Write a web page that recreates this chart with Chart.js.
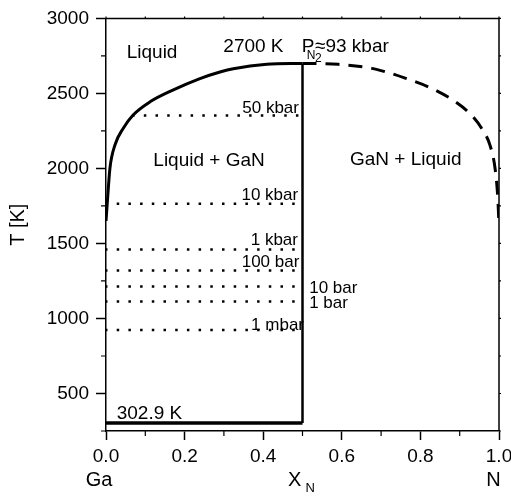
<!DOCTYPE html>
<html>
<head>
<meta charset="utf-8">
<script src="https://cdn.jsdelivr.net/npm/chart.js@4"></script>
<style>
  html, body { margin: 0; padding: 0; overflow: hidden; background: #fff; }
  #wrap { position: relative; width: 520px; height: 496px; }
</style>
</head>
<body>
<div id="wrap"><canvas id="myChart"></canvas></div>
<script>
// liquidus on the Ga side (solid) and on the N side (dashed)
var liquidusX = [0, 0.003, 0.01, 0.023, 0.044, 0.069, 0.112, 0.17, 0.239, 0.29, 0.324, 0.409, 0.5];
var liquidusT = [1650, 1760, 2000, 2158, 2268, 2356, 2444, 2522, 2599, 2643, 2665, 2694, 2700];
var dashedX = [0.5, 0.591, 0.676, 0.71, 0.761, 0.83, 0.888, 0.931, 0.956, 0.977, 0.99, 0.997, 1.0];
var dashedT = [2700, 2694, 2667, 2645, 2602, 2532, 2446, 2352, 2266, 2155, 2000, 1800, 1620];

// N2 equilibrium pressure isobars
var isobarLabels = ['50 kbar', '10 kbar', '1 kbar', '100 bar', '10 bar', '1 bar', '1 mbar'];
var isobarT = [2352, 1765, 1460, 1320, 1213, 1113, 923];
var isobarStart = [0.069, 0, 0, 0, 0, 0, 0];

var ganX = 0.5;
var gaMeltT = 302.9;
var ganMeltT = 2700;

var xTicks = [0, 0.2, 0.4, 0.6, 0.8, 1.0];
var xMinor = [0.1, 0.3, 0.5, 0.7, 0.9];
var yTicks = [500, 1000, 1500, 2000, 2500, 3000];
var yMinor = [250, 750, 1250, 1750, 2250, 2750];

Chart.defaults.font.family = "'Liberation Sans', Arial, sans-serif";
Chart.defaults.color = '#000';

function pts(xs, ts) {
  return xs.map(function (x, i) { return {x: x, y: ts[i]}; });
}

var datasets = [
  {data: pts(liquidusX, liquidusT), borderWidth: 3, cubicInterpolationMode: 'monotone'},
  {data: pts(dashedX, dashedT), borderWidth: 3, borderDash: [14, 9], cubicInterpolationMode: 'monotone'},
  {data: [{x: ganX, y: gaMeltT}, {x: ganX, y: ganMeltT}], borderWidth: 2.5},
  {data: [{x: 0, y: gaMeltT}, {x: ganX, y: gaMeltT}], borderWidth: 3.5}
];
for (let i = 0; i < isobarT.length; i++) {
  datasets.push({
    data: [{x: isobarStart[i], y: isobarT[i]}, {x: ganX, y: isobarT[i]}],
    borderWidth: 2.5,
    borderDash: [2.5, 9.2],
    borderDashOffset: 1
  });
}
datasets.forEach(function (d) {
  d.showLine = true;
  d.borderColor = '#000';
  d.pointRadius = 0;
  d.fill = false;
});

// where each isobar label sits relative to its line end
var labelPlace = [
  {x: 0.491, dy: -3, align: 'right'},
  {x: 0.489, dy: -4, align: 'right'},
  {x: 0.4885, dy: -4, align: 'right'},
  {x: 0.492, dy: -3, align: 'right'},
  {x: 0.517, dy: 6, align: 'left'},
  {x: 0.517, dy: 6.5, align: 'left'},
  {x: 0.5038, dy: 0, align: 'right'}
];

const decor = {
  id: 'decor',
  afterDraw(chart) {
    const ctx = chart.ctx, a = chart.chartArea;
    const xs = chart.scales.x, ys = chart.scales.y;
    const fam = "'Liberation Sans', Arial, sans-serif";
    ctx.save();
    ctx.strokeStyle = '#000';
    ctx.lineWidth = 1.5;
    ctx.beginPath();
    ctx.moveTo(a.left, a.top);
    ctx.lineTo(a.right, a.top);
    ctx.lineTo(a.right, a.bottom);
    ctx.stroke();

    ctx.lineWidth = 1.2;
    ctx.beginPath();
    xMinor.forEach(function (v) {
      const p = xs.getPixelForValue(v);
      ctx.moveTo(p, a.bottom); ctx.lineTo(p, a.bottom + 5);
    });
    xTicks.concat(xMinor).forEach(function (v) {
      const p = xs.getPixelForValue(v);
      ctx.moveTo(p, a.top); ctx.lineTo(p, a.top - 2);
    });
    yMinor.forEach(function (v) {
      const p = ys.getPixelForValue(v);
      ctx.moveTo(a.left, p); ctx.lineTo(a.left - 5, p);
    });
    yTicks.concat(yMinor).forEach(function (v) {
      const p = ys.getPixelForValue(v);
      ctx.moveTo(a.right, p); ctx.lineTo(a.right + 2, p);
    });
    ctx.stroke();

    ctx.fillStyle = '#000';
    ctx.textBaseline = 'alphabetic';
    function put(str, x, t, size, align, dx, dy) {
      ctx.font = size + 'px ' + fam;
      ctx.textAlign = align || 'left';
      ctx.fillText(str, xs.getPixelForValue(x) + (dx || 0), ys.getPixelForValue(t) + (dy || 0));
    }

    put('Liquid', 0.0527, 2735, 19);
    put('2700 K', 0.2985, 2778, 19);
    put('P', 0.498, 2778, 19);
    put('N', 0.5107, 2728, 12);
    put('2', 0.5318, 2708, 12);
    put('\u224893 kbar', 0.5318, 2778, 19);
    put('Liquid + GaN', 0.1204, 2019, 19);
    put('GaN + Liquid', 0.6209, 2024, 19);
    put(gaMeltT + ' K', 0.0272, gaMeltT, 19, 'left', 0, -4.5);

    for (let i = 0; i < isobarLabels.length; i++) {
      const lp = labelPlace[i];
      put(isobarLabels[i], lp.x, isobarT[i], 17, lp.align, 0, lp.dy);
    }

    // x axis title with subscript, and the end members
    const cx = xs.getPixelForValue(0.5);
    ctx.textAlign = 'left';
    ctx.font = '20px ' + fam;
    ctx.fillText('X', cx - 14.5, 486);
    ctx.font = '13px ' + fam;
    ctx.fillText('N', cx + 3, 492);
    ctx.font = '20px ' + fam;
    ctx.textAlign = 'center';
    ctx.fillText('Ga', xs.getPixelForValue(0) - 7, 486);
    ctx.fillText('N', xs.getPixelForValue(1) - 5.5, 486);
    ctx.restore();
  }
};

var ctx = document.getElementById('myChart');
var myChart = new Chart(ctx, {
  type: 'scatter',
  data: {datasets: datasets},
  options: {
    responsive: true,
    maintainAspectRatio: false,
    animation: false,
    devicePixelRatio: 1,
    layout: {padding: {top: 16, right: 21, left: 0, bottom: 0}},
    plugins: {legend: {display: false}, tooltip: {enabled: false}},
    scales: {
      x: {
        type: 'linear',
        min: 0,
        max: 1,
        afterBuildTicks: function (s) { s.ticks = xTicks.map(function (v) { return {value: v}; }); },
        afterFit: function (s) { s.height = 65; },
        ticks: {
          font: {size: 19},
          padding: 5,
          maxRotation: 0,
          callback: function (v) { return Number(v).toFixed(1); }
        },
        grid: {drawOnChartArea: false, tickLength: 9, tickColor: '#000', tickWidth: 1.5},
        border: {color: '#000', width: 1.5}
      },
      y: {
        type: 'linear',
        min: 250,
        max: 3000,
        afterBuildTicks: function (s) { s.ticks = yTicks.map(function (v) { return {value: v}; }); },
        afterFit: function (s) { s.width = 106; },
        ticks: {font: {size: 19}, padding: 7, callback: function (v) { return String(v); }},
        grid: {drawOnChartArea: false, tickLength: 10, tickColor: '#000', tickWidth: 1.5},
        border: {color: '#000', width: 1.5},
        title: {display: true, text: 'T [K]', font: {size: 20}, padding: {top: 6, bottom: 0}}
      }
    }
  },
  plugins: [decor]
});
</script>
</body>
</html>
